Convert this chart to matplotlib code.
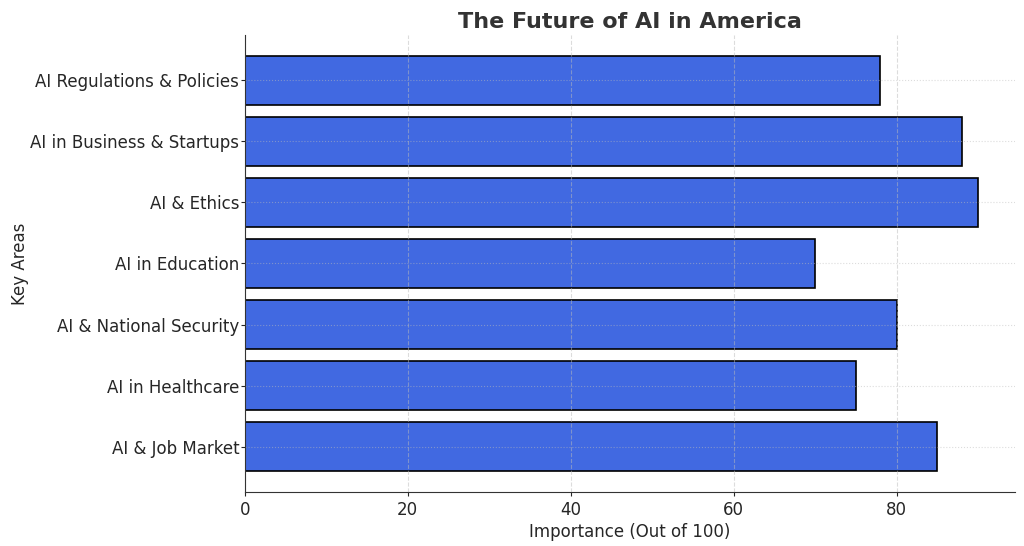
import matplotlib
matplotlib.use("Agg")
import matplotlib.pyplot as plt

areas = [
    "AI & Job Market",
    "AI in Healthcare",
    "AI & National Security",
    "AI in Education",
    "AI & Ethics",
    "AI in Business & Startups",
    "AI Regulations & Policies",
]
importance = [85, 75, 80, 70, 90, 88, 78]

text_col = "#262626"

fig = plt.figure(figsize=(10.24, 5.46), dpi=100)
ax = fig.add_axes([0.239, 0.099, 0.752, 0.837])

ax.barh(areas, importance, color="#4169E1", edgecolor="black", linewidth=1.2, height=0.8)

ax.set_title("The Future of AI in America", fontsize=16, fontweight="bold", color="#333333", pad=5)
ax.set_xlabel("Importance (Out of 100)", fontsize=12, color=text_col, labelpad=3)
ax.set_ylabel("Key Areas", fontsize=12, color=text_col, labelpad=1)
ax.tick_params(labelsize=12, colors=text_col, length=3)
ax.tick_params(axis="y", pad=1)

ax.grid(True, axis="x", linestyle="--", alpha=0.5, color="#bbbbbb", linewidth=0.8)
ax.grid(True, axis="y", linestyle=":", alpha=0.5, color="#bbbbbb", linewidth=0.8)
ax.set_axisbelow(False)

for s in ["top", "right"]:
    ax.spines[s].set_visible(False)
for s in ["left", "bottom"]:
    ax.spines[s].set_color("#333333")
    ax.spines[s].set_zorder(3)

fig.savefig("out.png", dpi=100)
